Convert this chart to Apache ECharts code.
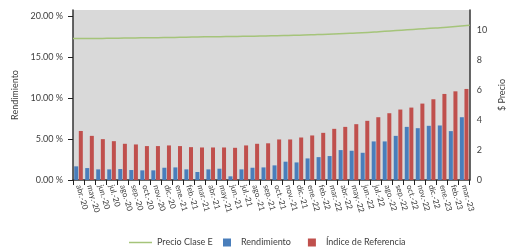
<!DOCTYPE html>
<html>
<head>
<meta charset="utf-8">
<script src="https://cdn.jsdelivr.net/npm/echarts@6/dist/echarts.min.js"></script>
<style>
  html, body { margin: 0; padding: 0; background: #fff; }
  #chart { width: 515px; height: 251px; }
</style>
</head>
<body>
<div id="chart"></div>
<script>
// meses abr-20 .. mar-23
const meses = [
  'abr.-20', 'may.-20', 'jun.-20', 'jul.-20', 'ago.-20', 'sep.-20', 'oct.-20', 'nov.-20', 'dic.-20',
  'ene.-21', 'feb.-21', 'mar.-21', 'abr.-21', 'may.-21', 'jun.-21', 'jul.-21', 'ago.-21', 'sep.-21',
  'oct.-21', 'nov.-21', 'dic.-21', 'ene.-22', 'feb.-22', 'mar.-22', 'abr.-22', 'may.-22', 'jun.-22',
  'jul.-22', 'ago.-22', 'sep.-22', 'oct.-22', 'nov.-22', 'dic.-22', 'ene.-23', 'feb.-23', 'mar.-23'
];

// rendimiento (%)
const rendimiento = [
  1.67, 1.46, 1.30, 1.30, 1.34, 1.22, 1.18, 1.18, 1.50, 1.54, 1.30, 0.98,
  1.30, 1.38, 0.45, 1.30, 1.50, 1.54, 1.79, 2.24, 2.15, 2.64, 2.80, 2.93,
  3.66, 3.58, 3.33, 4.72, 4.72, 5.40, 6.50, 6.34, 6.63, 6.67, 5.98, 7.68
];

// índice de referencia (%)
const indice = [
  6.00, 5.40, 5.00, 4.75, 4.43, 4.35, 4.15, 4.15, 4.23, 4.15, 4.02, 3.98,
  3.98, 3.98, 3.94, 4.23, 4.43, 4.49, 4.96, 4.96, 5.20, 5.45, 5.77, 6.26,
  6.50, 6.83, 7.24, 7.68, 8.17, 8.62, 8.86, 9.35, 9.88, 10.53, 10.85, 11.14
];

// precio clase E ($)
const precio = [
  9.44, 9.45, 9.45, 9.46, 9.47, 9.48, 9.49, 9.50, 9.51, 9.52, 9.53, 9.55,
  9.56, 9.57, 9.58, 9.59, 9.60, 9.62, 9.63, 9.65, 9.67, 9.69, 9.72, 9.75,
  9.78, 9.81, 9.85, 9.90, 9.95, 10.00, 10.05, 10.10, 10.15, 10.20, 10.26, 10.33
];

const ticksPct = [0, 5, 10, 15, 20];
const ticksPrecio = [0, 2, 4, 6, 8, 10];

const fuente = 'Lato';
const gris = '#404040';

const chart = echarts.init(document.getElementById('chart'));

chart.setOption({
  animation: false,
  textStyle: { fontFamily: fuente },
  grid: {
    left: 73, right: 36, top: 10, bottom: 71,
    show: true, backgroundColor: '#d9d9d9', borderWidth: 0
  },
  legend: [
    {
      data: ['Precio Clase E'],
      left: 124, top: 233,
      icon: 'rect',
      itemWidth: 23, itemHeight: 1.5,
      textStyle: { fontSize: 9, color: gris, fontFamily: fuente }
    },
    {
      data: ['Rendimiento', 'Índice de Referencia'],
      left: 218, top: 233,
      itemWidth: 8, itemHeight: 8, itemGap: 17,
      icon: 'rect',
      textStyle: { fontSize: 9, color: gris, fontFamily: fuente, padding: [0, 0, 0, 5] }
    }
  ],
  xAxis: [
    {
      type: 'category',
      data: meses,
      axisLine: { lineStyle: { color: '#333', width: 1.5 } },
      axisTick: { show: true, length: 5, lineStyle: { color: '#222' } },
      axisLabel: { interval: 0, rotate: -74, fontSize: 8, color: gris, margin: 5 }
    },
    {
      type: 'category',
      data: meses,
      boundaryGap: false,
      show: false
    }
  ],
  yAxis: [
    {
      type: 'value',
      min: 0, max: 20.8,
      name: 'Rendimiento',
      nameLocation: 'middle',
      nameGap: 53,
      nameTextStyle: { fontSize: 9, color: gris },
      axisLine: { show: true, lineStyle: { color: '#333', width: 1.5 } },
      axisTick: { show: true, length: 5, customValues: ticksPct, lineStyle: { color: '#222' } },
      axisLabel: {
        customValues: ticksPct, fontSize: 9, color: gris, margin: 10,
        formatter: v => v.toFixed(2) + ' %'
      },
      splitLine: { show: false }
    },
    {
      type: 'value',
      min: 0, max: 11.35,
      name: '$ Precio',
      nameLocation: 'middle',
      nameGap: 27,
      nameTextStyle: { fontSize: 9, color: gris },
      axisLine: { show: true, lineStyle: { color: '#333', width: 1.5 } },
      axisTick: { show: false },
      axisLabel: { customValues: ticksPrecio, fontSize: 9, color: gris, margin: 7 },
      splitLine: { show: false }
    }
  ],
  series: [
    {
      name: 'Precio Clase E',
      type: 'line',
      xAxisIndex: 1,
      yAxisIndex: 1,
      data: precio,
      smooth: true,
      symbol: 'none',
      itemStyle: { color: '#a5c47a' },
      lineStyle: { color: '#a5c47a', width: 1.5 }
    },
    {
      name: 'Rendimiento',
      type: 'bar',
      data: rendimiento,
      barWidth: 4,
      barGap: '15%',
      itemStyle: { color: '#4a7ebb' }
    },
    {
      name: 'Índice de Referencia',
      type: 'bar',
      data: indice,
      barWidth: 4,
      itemStyle: { color: '#c0504d' }
    }
  ]
});
</script>
</body>
</html>
